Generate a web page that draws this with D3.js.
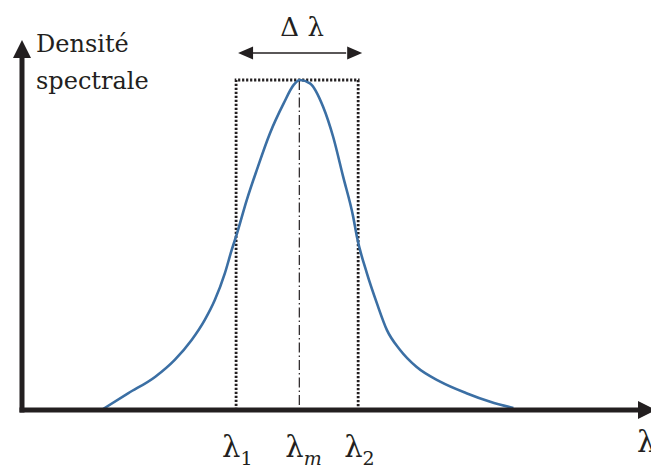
<!DOCTYPE html>
<html>
<head>
<meta charset="utf-8">
<script src="https://cdnjs.cloudflare.com/ajax/libs/d3/7.8.5/d3.min.js"></script>
<style>
  html, body { margin: 0; padding: 0; background: #fff; }
  svg { display: block; }
</style>
</head>
<body>
<svg id="chart" width="651" height="469"></svg>
<script>
// Profil spectral (unités arbitraires)
const lambdaValues = [12.7, 17.0, 21.3, 24.4, 27.1, 29.2, 30.8, 32.4, 33.5, 34.3, 35.9, 37.5, 39.6, 41.8, 43.4, 44.4,
                      46.0, 48.1, 49.7, 51.3, 52.9, 53.5, 55.1, 56.7, 58.3, 60.4, 63.0, 66.8, 71.0, 74.8, 78.5];
const densityValues = [0.0, 0.051, 0.101, 0.152, 0.212, 0.273, 0.333, 0.414, 0.485, 0.532, 0.636, 0.727, 0.838, 0.929, 0.985, 1.0,
                       0.99, 0.919, 0.828, 0.707, 0.586, 0.525, 0.414, 0.323, 0.242, 0.182, 0.131, 0.086, 0.051, 0.025, 0.006];

// Repères sur l'axe des longueurs d'onde
const markerSubs = ['1', 'm', '2'];
const markerValues = [34.2, 44.3, 53.7];

const INK = '#231f20';
const CURVE = '#3b6fa4';
const FONT = 'DejaVu Serif';

const svg = d3.select('#chart');

const x = d3.scaleLinear().domain([0, 100]).range([22, 648]);
const y = d3.scaleLinear().domain([0, 1]).range([410, 80]);

const points = lambdaValues.map((l, i) => ({ l: l, d: densityValues[i] }));
const [l1, lm, l2] = markerValues;

// Rectangle pointillé (largeur Δλ)
svg.append('path')
    .attr('d', `M${x(l1)},${y(0)} V${y(1)} H${x(l2)} V${y(0)}`)
    .attr('fill', 'none')
    .attr('stroke', INK)
    .attr('stroke-width', 2.8)
    .attr('stroke-dasharray', '2.2,1.8');

// Trait mixte au centre
svg.append('line')
    .attr('x1', x(lm)).attr('x2', x(lm))
    .attr('y1', y(1)).attr('y2', y(0))
    .attr('stroke', INK)
    .attr('stroke-width', 1.2)
    .attr('stroke-dasharray', '10,3,1.5,3');

// Courbe
svg.append('path')
    .datum(points)
    .attr('d', d3.line().x(d => x(d.l)).y(d => y(d.d)).curve(d3.curveMonotoneX))
    .attr('fill', 'none')
    .attr('stroke', CURVE)
    .attr('stroke-width', 2.6);

// Axes avec flèches
svg.append('line')
    .attr('x1', x(0)).attr('x2', x(0))
    .attr('y1', y(0) + 2.5).attr('y2', 56)
    .attr('stroke', INK).attr('stroke-width', 5);
svg.append('path')
    .attr('d', `M${x(0)},40 L${x(0) - 9},58 L${x(0) + 9},58 Z`)
    .attr('fill', INK);

svg.append('line')
    .attr('x1', x(0) - 2.5).attr('x2', 640)
    .attr('y1', y(0)).attr('y2', y(0))
    .attr('stroke', INK).attr('stroke-width', 5);
svg.append('path')
    .attr('d', `M656,${y(0)} L638,${y(0) - 9} L638,${y(0) + 9} Z`)
    .attr('fill', INK);

// Flèche Δλ
const ay = 53;
svg.append('line')
    .attr('x1', x(l1) + 12).attr('x2', x(l2) - 12)
    .attr('y1', ay).attr('y2', ay)
    .attr('stroke', INK).attr('stroke-width', 1.6);
svg.append('path')
    .attr('d', `M${x(l1) + 2},${ay} L${x(l1) + 17},${ay - 6.5} L${x(l1) + 17},${ay + 6.5} Z`)
    .attr('fill', INK);
svg.append('path')
    .attr('d', `M${x(l2) + 4},${ay} L${x(l2) - 11},${ay - 6.5} L${x(l2) - 11},${ay + 6.5} Z`)
    .attr('fill', INK);

svg.append('text')
    .attr('x', (x(l1) + x(l2)) / 2 + 5)
    .attr('y', 36)
    .attr('text-anchor', 'middle')
    .style('font-family', FONT)
    .attr('font-size', 26)
    .attr('fill', INK)
    .text('Δ λ');

// Titre de l'axe vertical
const ylab = svg.append('text')
    .style('font-family', FONT)
    .attr('font-size', 24)
    .attr('fill', INK);
ylab.append('tspan').attr('x', 36).attr('y', 52).text('Densité');
ylab.append('tspan').attr('x', 36).attr('y', 89).text('spectrale');

// Étiquettes λ1, λm, λ2
markerValues.forEach((v, i) => {
    const t = svg.append('text')
        .attr('x', x(v) - 14)
        .attr('y', 457)
        .style('font-family', FONT)
        .attr('font-size', 29)
        .attr('fill', INK);
    t.append('tspan').text('λ');
    t.append('tspan')
        .attr('dy', 8)
        .attr('font-size', 19)
        .attr('font-style', markerSubs[i] === 'm' ? 'italic' : 'normal')
        .text(markerSubs[i]);
});

// λ en bout d'axe (coupé par le bord, comme sur la figure)
svg.append('text')
    .attr('x', 637)
    .attr('y', 452)
    .style('font-family', FONT)
    .attr('font-size', 29)
    .attr('fill', INK)
    .text('λ');
</script>
</body>
</html>
